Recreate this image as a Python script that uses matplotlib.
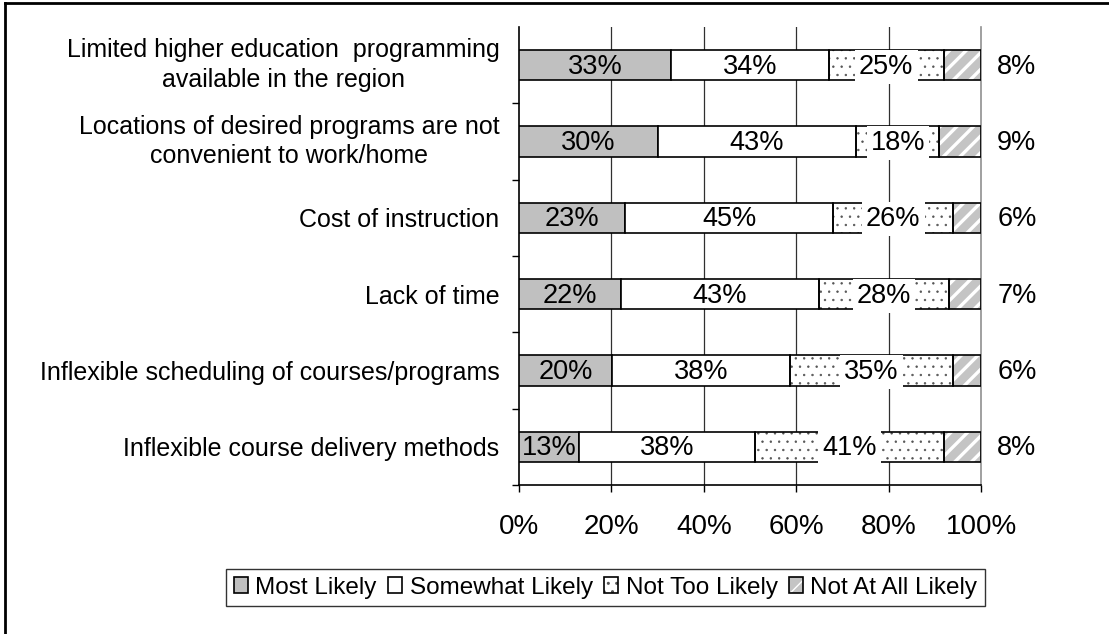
import matplotlib.pyplot as plt
import matplotlib.lines as mlines
import numpy as np

plt.rcParams['font.family'] = ['Liberation Sans', 'DejaVu Sans']

categories = [
    'Limited higher education  programming\navailable in the region',
    'Locations of desired programs are not\nconvenient to work/home',
    'Cost of instruction',
    'Lack of time',
    'Inflexible scheduling of courses/programs',
    'Inflexible course delivery methods',
]
series = ['Most Likely', 'Somewhat Likely', 'Not Too Likely', 'Not At All Likely']
most_likely = [33, 30, 23, 22, 20, 13]
somewhat_likely = [34, 43, 45, 43, 38, 38]
not_too_likely = [25, 18, 26, 28, 35, 41]
not_at_all = [8, 9, 6, 7, 6, 8]
xticks = [0, 20, 40, 60, 80, 100]

raw = np.array([most_likely, somewhat_likely, not_too_likely, not_at_all], dtype=float)
# 100% stacked: each row scaled to its own total
pct = raw / raw.sum(axis=0) * 100

fig = plt.figure(figsize=(11.09, 6.34), dpi=100)
ax = fig.add_axes([519 / 1109, 1 - 485 / 634, 462 / 1109, 458 / 634])

y = np.arange(len(categories))
h = 0.4
left = np.zeros(len(categories))

styles = [
    dict(fc='#c0c0c0', hatch=None, hc=None),
    dict(fc='white', hatch=None, hc=None),
    dict(fc='white', hatch='..', hc='#555555'),
    dict(fc='#c4c4c4', hatch='//', hc='white'),
]

handles = []
for k, st in enumerate(styles):
    if st['hatch']:
        lw = 2.4 if st['hatch'] == '//' else 0.5
        with plt.rc_context({'hatch.linewidth': lw}):
            b = ax.barh(y, pct[k], h, left=left, color=st['fc'], edgecolor=st['hc'],
                        hatch=st['hatch'], linewidth=0, zorder=2)
        b2 = ax.barh(y, pct[k], h, left=left, color='none', edgecolor='black',
                     linewidth=1.2, zorder=3)
        handles.append((b, b2))
    else:
        b = ax.barh(y, pct[k], h, left=left, color=st['fc'], edgecolor='black',
                    linewidth=1.2, zorder=3)
        handles.append(b)

    for i in range(len(categories)):
        txt = f'{raw[k, i]:.0f}%'
        if k == 3:
            ax.text(103.5, y[i] + 0.02, txt, ha='left', va='center', fontsize=19.5,
                    zorder=5, clip_on=False)
        elif k == 2:
            ax.text(left[i] + pct[k, i] / 2, y[i] + 0.02, txt, ha='center', va='center',
                    fontsize=19.5, zorder=5,
                    bbox=dict(boxstyle='square,pad=0.15', fc='white', ec='none'))
        else:
            ax.text(left[i] + pct[k, i] / 2, y[i] + 0.02, txt, ha='center', va='center',
                    fontsize=19.5, zorder=5)
    left = left + pct[k]

ax.set_xlim(0, 100)
ax.set_ylim(len(categories) - 0.5, -0.5)
ax.set_xticks(xticks)
ax.set_xticklabels([f'{t}%' for t in xticks], fontsize=20)
ax.tick_params(axis='x', direction='out', length=5, width=1, pad=16)

ax.set_yticks(y)
ax.set_yticklabels(categories, fontsize=18, multialignment='center', linespacing=1.3)
for lbl in ax.get_yticklabels():
    if '\n' in lbl.get_text():
        lbl.set_va('center')
ax.tick_params(axis='y', which='major', length=0, pad=14)
ax.set_yticks(np.arange(len(categories)) + 0.5, minor=True)
ax.tick_params(axis='y', which='minor', direction='out', length=5, width=1)

for gx in xticks[1:-1]:
    ax.axvline(gx, color='#303030', linewidth=0.9, zorder=1)
ax.spines['top'].set_visible(False)
ax.spines['right'].set_color('#909090')
ax.spines['right'].set_linewidth(1.2)
ax.spines['left'].set_linewidth(1.2)
ax.spines['bottom'].set_linewidth(1.2)

leg = fig.legend(handles, series, loc='center', bbox_to_anchor=(0.546, 0.073),
                 ncol=4, fontsize=17.5, frameon=True, fancybox=False,
                 handlelength=0.6, handleheight=0.6, handletextpad=0.3,
                 columnspacing=0.45, borderpad=0.3, borderaxespad=0)
leg.get_frame().set_edgecolor('black')
leg.get_frame().set_linewidth(1.0)

# outer frame (left and top edges)
fig.add_artist(mlines.Line2D([5 / 1109, 5 / 1109], [0, 1 - 3 / 634],
                             transform=fig.transFigure, color='black', linewidth=2))
fig.add_artist(mlines.Line2D([5 / 1109, 1], [1 - 3 / 634, 1 - 3 / 634],
                             transform=fig.transFigure, color='black', linewidth=2))

fig.savefig('out.png', dpi=100)
